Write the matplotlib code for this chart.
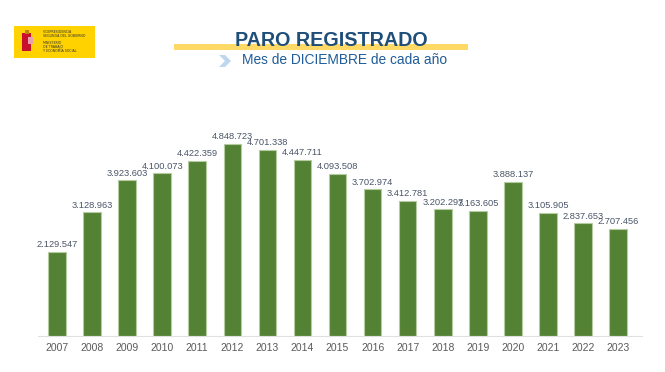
import matplotlib
matplotlib.use("Agg")
import matplotlib.pyplot as plt
from matplotlib.patches import Rectangle, Polygon

years = ["2007", "2008", "2009", "2010", "2011", "2012", "2013", "2014", "2015",
         "2016", "2017", "2018", "2019", "2020", "2021", "2022", "2023"]
values = [2129547, 3128963, 3923603, 4100073, 4422359, 4848723, 4701338, 4447711,
          4093508, 3702974, 3412781, 3202297, 3163605, 3888137, 3105905, 2837653,
          2707456]

def fmt(v):
    return f"{v:,}".replace(",", ".")

W, H = 665, 372
fig = plt.figure(figsize=(W / 100, H / 100), dpi=100)
fig.patch.set_facecolor("white")

# axes: left 38, right 642, bottom 336, top 98 (pixels)
ax = fig.add_axes([38 / W, 1 - 336 / H, (642 - 38) / W, (336 - 98) / H])
x = list(range(len(years)))
ax.bar(x, values, width=0.5, color="#548235", edgecolor="#B5CCA0", linewidth=0.8)
ax.set_xlim(-0.54, 16.68)
ax.set_ylim(0, 6.0e6)
for i, v in zip(x, values):
    ax.text(i, v + 60000, fmt(v), ha="center", va="bottom", fontsize=6.7,
            color="#4A5568", family="Liberation Sans")
ax.set_xticks(x)
ax.set_xticklabels(years, fontsize=7.5, color="#595959", family="Liberation Sans")
ax.tick_params(axis="x", length=0, pad=5)
ax.set_yticks([])
for s in ["top", "right", "left"]:
    ax.spines[s].set_visible(False)
ax.spines["bottom"].set_color("#E0E0E0")
ax.spines["bottom"].set_linewidth(0.8)

# overlay axes in pixel coords for header
ov = fig.add_axes([0, 0, 1, 1], zorder=-1)
ov.set_xlim(0, W)
ov.set_ylim(H, 0)
ov.axis("off")

# yellow stripe behind title
ov.add_patch(Rectangle((174, 44), 294, 6, color="#FFD966", lw=0))
fig.text(331 / W, 1 - 40 / H, "PARO REGISTRADO", ha="center", va="center",
         fontsize=14.2, fontweight="bold", color="#1F4E79", family="Liberation Sans")
# chevron
ov.add_patch(Polygon([(219, 55), (225, 55), (231, 61), (225, 67), (219, 67), (225, 61)],
                     closed=True, color="#BDD7EE", lw=0))
fig.text(242 / W, 1 - 60 / H, "Mes de DICIEMBRE de cada año", ha="left", va="center",
         fontsize=9.9, color="#1F5C99", family="Liberation Sans")

# logo
ov.add_patch(Rectangle((14, 26), 81, 32, color="#FFD200", lw=0))
ov.add_patch(Rectangle((22, 33), 9, 18, color="#C8102E", lw=0))
ov.add_patch(Rectangle((25, 30), 4, 4, color="#B8860B", lw=0))
ov.add_patch(Rectangle((28, 37), 5, 7, color="#E6A0B0", lw=0))
fig.text(43 / W, 1 - 34 / H, "VICEPRESIDENCIA\nSEGUNDA DEL GOBIERNO", fontsize=2.3,
         color="#333333", va="center", ha="left", linespacing=1.1)
fig.text(43 / W, 1 - 47 / H, "MINISTERIO\nDE TRABAJO\nY ECONOMÍA SOCIAL", fontsize=2.3,
         color="#333333", va="center", ha="left", linespacing=1.1)

fig.savefig("out.png", dpi=100)
